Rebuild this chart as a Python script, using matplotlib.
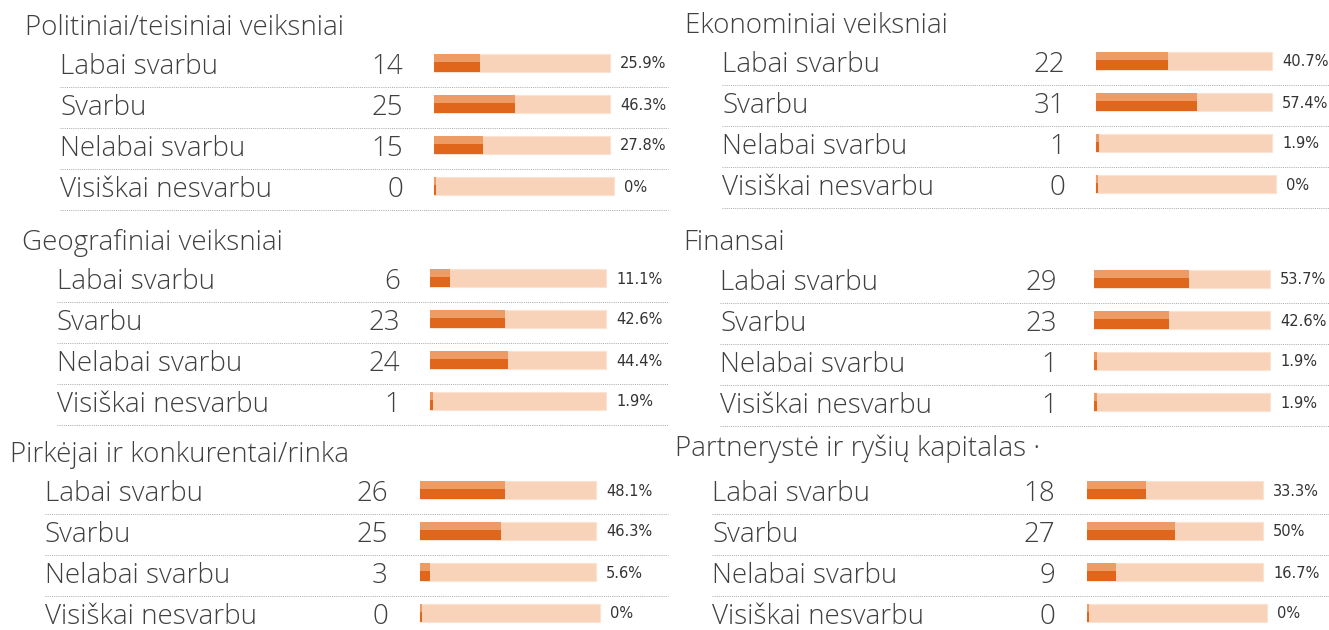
import matplotlib
matplotlib.use("Agg")
import matplotlib.pyplot as plt

# survey answers, same four levels in every block
levels = ["Labai svarbu", "Svarbu", "Nelabai svarbu", "Visiškai nesvarbu"]

titles = [
    "Politiniai/teisiniai veiksniai",
    "Ekonominiai veiksniai",
    "Geografiniai veiksniai",
    "Finansai",
    "Pirkėjai ir konkurentai/rinka",
    "Partnerystė ir ryšių kapitalas ·",
]

counts = [
    [14, 25, 15, 0],
    [22, 31, 1, 0],
    [6, 23, 24, 1],
    [29, 23, 1, 1],
    [26, 25, 3, 0],
    [18, 27, 9, 0],
]

percents = [
    [25.9, 46.3, 27.8, 0],
    [40.7, 57.4, 1.9, 0],
    [11.1, 42.6, 44.4, 1.9],
    [53.7, 42.6, 1.9, 1.9],
    [48.1, 46.3, 5.6, 0],
    [33.3, 50, 16.7, 0],
]

# block layout in pixels: title x, title y, label x, first row y, number right edge, bar start
blocks = [
    (25, 28, 60, 66, 403, 434),
    (685, 26, 722, 64, 1065, 1096),
    (22, 243, 57, 281, 400, 430),
    (683, 243, 720, 282, 1057, 1094),
    (10, 455, 45, 493, 388, 420),
    (675, 449, 712, 493, 1055, 1087),
]

ROW = 41
TRACK = 176
TEXT = "#404040"
TRACK_COLOR = "#f9d3b9"
FILL = "#e0661b"
FILL_TOP = "#ee9c66"
LINE = "#a8a8a8"
FONT = "Open Sans"
SIZE = 20

fig = plt.figure(figsize=(13.29, 6.30), dpi=100)
ax = fig.add_axes([0, 0, 1, 1])
ax.set_xlim(0, 1329)
ax.set_ylim(630, 0)
ax.axis("off")

for title, cnt, pct, (tx, ty, lx, y0, nx, bx) in zip(titles, counts, percents, blocks):
    ax.text(tx, ty, title, fontsize=SIZE, color=TEXT, family=FONT, fontweight="light",
            va="center", ha="left")
    for i, (lev, c, p) in enumerate(zip(levels, cnt, pct)):
        y = y0 + i * ROW
        ax.text(lx, y + 1, lev, fontsize=SIZE, color=TEXT, family=FONT, fontweight="light",
                va="center", ha="left")
        ax.text(nx, y + 1, str(c), fontsize=SIZE, color=TEXT, family=FONT, fontweight="light",
                va="center", ha="right")
        track = TRACK + (4 if p == 0 else 0)
        by = y - 3
        ax.barh(by, track, left=bx, height=18, color=TRACK_COLOR, edgecolor="#fbe3d2", linewidth=0.8)
        w = max(p / 100 * TRACK, 2)
        ax.barh(by + 4, w, left=bx, height=10, color=FILL)
        ax.barh(by - 5, w, left=bx, height=8, color=FILL_TOP)
        lab = ("%g" % p) + "%"
        ax.text(bx + track + 10, by + 1, lab, fontsize=10.5, color="#333333", family="DejaVu Sans",
                va="center", ha="left")
        ax.plot([lx, 1329 if lx > 600 else 668], [y + 21, y + 21], color=LINE,
                linestyle=(0, (1, 1.2)), linewidth=0.7)

fig.savefig("out.png", dpi=100)
